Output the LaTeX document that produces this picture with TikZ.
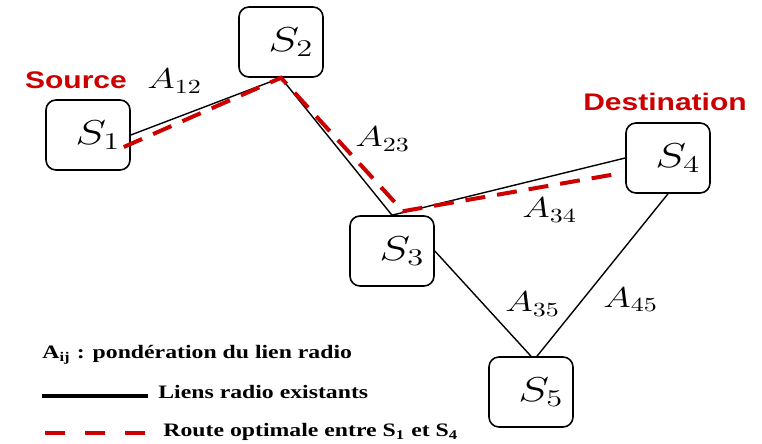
\documentclass[tikz,border=0pt]{standalone}
\usepackage{fontspec}
\usepackage{graphicx}
\newfontfamily\tagfont{Liberation Sans}
\newfontfamily\legendfont{Liberation Serif}
\definecolor{routered}{RGB}{204,0,0}
\usetikzlibrary{calc}
\newcommand{\stationname}[1]{\hspace*{10pt}\scalebox{1.35}[1]{$S_{#1}$}}
\newcommand{\weight}[1]{\scalebox{1.3}[1]{$A_{#1}$}}
\newcommand{\widetext}[1]{\scalebox{1.25}[1]{#1}}

\begin{document}
\begin{tikzpicture}[
  x=0.5pt, y=-0.5pt,
  station/.style={draw, line width=0.8pt, rounded corners=5pt, minimum width=42pt, minimum height=35pt, inner sep=0pt, font=\fontsize{16.5}{19}\selectfont},
  link/.style={line width=0.7pt},
  route/.style={routered, line width=2pt, dash pattern=on 10pt off 6pt},
  wlbl/.style={inner sep=0pt, anchor=base west, font=\fontsize{14.5}{17}\selectfont},
  tag/.style={text=routered, inner sep=0pt, font=\tagfont\bfseries\fontsize{12}{14}\selectfont},
  legend/.style={inner sep=0pt, anchor=base west, font=\legendfont\bfseries\fontsize{9.5}{11}\selectfont}
]
  \useasboundingbox (0,0) rectangle (762,444);

  % stations
  \node[station] (s1) at (88,135) {\stationname{1}};
  \node[station] (s2) at (281,42) {\stationname{2}};
  \node[station] (s3) at (392,251) {\stationname{3}};
  \node[station] (s4) at (668,158) {\stationname{4}};
  \node[station] (s5) at (531,392) {\stationname{5}};

  % radio links
  \draw[link] (s1.east) -- (s2.south);
  \draw[link] (s2.south) -- (s3.north);
  \draw[link] (s3.north) -- (s4.west);
  \draw[link] (s3.east) -- (s5.north);
  \draw[link] (s4.south) -- ($(s5.north)+(6,0)$);

  % optimal route
  \coordinate (r1) at ($(s1.east)+(-7,12)$);
  \coordinate (r3) at ($(s3.north)+(11,-4)$);
  \coordinate (r4) at ($(s4.west)+(-3,15)$);
  \draw[route] (r1) -- (s2.south) -- (r3) -- (r4);

  \node[wlbl] (a12) at (147,89) {\weight{12}};
  \node[wlbl] (a23) at (355,147) {\weight{23}};
  \node[wlbl] (a34) at (522,218) {\weight{34}};
  \node[wlbl] (a35) at (505,312) {\weight{35}};
  \node[wlbl] (a45) at (603,307) {\weight{45}};

  \node[tag] (src) at (76,80) {\widetext{Source}};
  \node[tag] (dst) at (665,102) {\widetext{Destination}};

  % legend
  \node[legend] (leg1) at (42,358) {\widetext{A\textsubscript{ij} : pondération du lien radio}};
  \coordinate (l2a) at (42,396);
  \coordinate (l2b) at (148,396);
  \draw[line width=2pt] (l2a) -- (l2b);
  \node[legend] (leg2) at (158,399) {\widetext{Liens radio existants}};
  \coordinate (l3a) at (45,433);
  \coordinate (l3b) at (145,433);
  \draw[routered, line width=2pt, dash pattern=on 10pt off 10pt] (l3a) -- (l3b);
  \node[legend] (leg3) at (163,437) {\widetext{Route optimale entre S\textsubscript{1} et S\textsubscript{4}}};
\end{tikzpicture}
\end{document}
